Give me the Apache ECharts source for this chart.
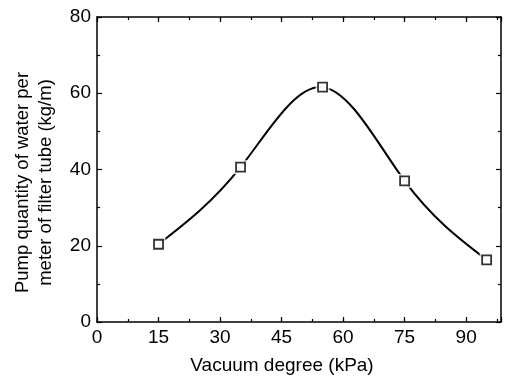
<!DOCTYPE html>
<html>
<head>
<meta charset="utf-8">
<script src="https://cdn.jsdelivr.net/npm/echarts@6/dist/echarts.min.js"></script>
<style>
  html, body { margin: 0; padding: 0; background: #fff; }
  #chart { width: 505px; height: 380px; }
</style>
</head>
<body>
<div id="chart"></div>
<script>
// Vacuum degree (kPa) and pumped water per metre of filter tube (kg/m)
const vacuumDegree = [15, 35, 55, 75, 95];
const pumpQuantity = [20.4, 40.6, 61.6, 37.0, 16.3];

// Axis ranges and tick steps
const xMin = 0, xMax = 98.5, xMajor = 15, xMinor = 7.5;
const yMin = 0, yMax = 80, yMajor = 20;

const FONT = 'Liberation Sans, Arial, sans-serif';
const INK = '#000';

const chart = echarts.init(document.getElementById('chart'), null, { renderer: 'canvas' });

// Slopes of a natural cubic spline through the measured points (data space)
function splineSlopes(xs, ys) {
  const n = xs.length;
  const h = [], d = [];
  for (let i = 0; i < n - 1; i++) { h.push(xs[i + 1] - xs[i]); d.push((ys[i + 1] - ys[i]) / h[i]); }
  // solve for second derivatives M (natural: M0 = Mn-1 = 0)
  const a = new Array(n).fill(0), b = new Array(n).fill(1), c = new Array(n).fill(0), r = new Array(n).fill(0);
  for (let i = 1; i < n - 1; i++) {
    a[i] = h[i - 1]; b[i] = 2 * (h[i - 1] + h[i]); c[i] = h[i];
    r[i] = 6 * (d[i] - d[i - 1]);
  }
  for (let i = 1; i < n; i++) {
    const w = a[i] / b[i - 1];
    b[i] -= w * c[i - 1]; r[i] -= w * r[i - 1];
  }
  const M = new Array(n).fill(0);
  M[n - 1] = r[n - 1] / b[n - 1];
  for (let i = n - 2; i >= 0; i--) M[i] = (r[i] - c[i] * M[i + 1]) / b[i];
  const m = [];
  for (let i = 0; i < n - 1; i++) m.push(d[i] - h[i] * (2 * M[i] + M[i + 1]) / 6);
  m.push(d[n - 2] + h[n - 2] * (M[n - 2] + 2 * M[n - 1]) / 6);
  return m;
}

function xAxisDef(position, step, tickLen, showLabel, showLine) {
  return {
    type: 'value', position: position, min: xMin, max: xMax, interval: step,
    axisLine: { show: showLine, onZero: false, lineStyle: { color: INK, width: 1.5 } },
    axisTick: { show: true, inside: true, length: tickLen, lineStyle: { color: INK, width: 1.2 } },
    axisLabel: {
      show: showLabel, color: INK, fontFamily: FONT, fontSize: 19, margin: 6,
      formatter: v => (Math.abs(v % xMajor) < 1e-6 ? String(v) : '')
    },
    splitLine: { show: false }
  };
}

function yAxisDef(position, showLabel) {
  return {
    type: 'value', position: position, min: yMin, max: yMax, interval: yMajor,
    axisLine: { show: true, onZero: false, lineStyle: { color: INK, width: 1.5 } },
    axisTick: { show: true, inside: true, length: 5, lineStyle: { color: INK, width: 1.2 } },
    minorTick: { show: true, splitNumber: 2, length: 3, lineStyle: { color: INK, width: 1.2 } },
    axisLabel: { show: showLabel, color: INK, fontFamily: FONT, fontSize: 19, margin: 6 },
    splitLine: { show: false },
    minorSplitLine: { show: false }
  };
}

const bottomMain = xAxisDef('bottom', xMajor, 5, true, true);
bottomMain.name = 'Vacuum degree (kPa)';
bottomMain.nameLocation = 'middle';
bottomMain.nameGap = 34;
bottomMain.nameTextStyle = { color: INK, fontFamily: FONT, fontSize: 19, padding: [0, 34, 0, 0] };

const leftMain = yAxisDef('left', true);
leftMain.name = 'Pump quantity of water per\nmeter of filter tube (kg/m)';
leftMain.nameLocation = 'middle';
leftMain.nameGap = 40;
leftMain.nameTextStyle = { color: INK, fontFamily: FONT, fontSize: 18.5, lineHeight: 23, padding: [0, 26, 0, 0] };

const points = vacuumDegree.map((x, i) => [x, pumpQuantity[i]]);
const slopes = splineSlopes(vacuumDegree, pumpQuantity);

// Smooth curve: cubic Bezier segments mapped through the grid's coordinate system
function renderCurve(params, api) {
  const segs = [];
  for (let i = 0; i < points.length - 1; i++) {
    const [x0, y0] = points[i], [x1, y1] = points[i + 1];
    const h = x1 - x0;
    const p0 = api.coord([x0, y0]);
    const c1 = api.coord([x0 + h / 3, y0 + slopes[i] * h / 3]);
    const c2 = api.coord([x1 - h / 3, y1 - slopes[i + 1] * h / 3]);
    const p1 = api.coord([x1, y1]);
    segs.push({
      type: 'bezierCurve',
      shape: { x1: p0[0], y1: p0[1], cpx1: c1[0], cpy1: c1[1], cpx2: c2[0], cpy2: c2[1], x2: p1[0], y2: p1[1] },
      style: { stroke: INK, lineWidth: 2, fill: null }
    });
  }
  return { type: 'group', children: segs };
}

chart.setOption({
  animation: false,
  backgroundColor: '#fff',
  grid: { left: 97, right: 4, top: 17, bottom: 58, containLabel: false },
  xAxis: [
    bottomMain,
    xAxisDef('bottom', xMinor, 3, false, false),
    xAxisDef('top', xMajor, 5, false, true),
    xAxisDef('top', xMinor, 3, false, false)
  ],
  yAxis: [
    leftMain,
    yAxisDef('right', false)
  ],
  series: [
    {
      type: 'custom',
      xAxisIndex: 0, yAxisIndex: 0,
      data: [0],
      renderItem: renderCurve,
      silent: true,
      z: 2
    },
    {
      // white surround leaves a small gap between curve and markers
      type: 'scatter',
      xAxisIndex: 0, yAxisIndex: 0,
      data: points,
      symbol: 'rect',
      symbolSize: 14,
      itemStyle: { color: '#fff' },
      silent: true,
      z: 3
    },
    {
      type: 'scatter',
      xAxisIndex: 0, yAxisIndex: 0,
      data: points,
      symbol: 'rect',
      symbolSize: 9,
      itemStyle: { color: '#fff', borderColor: INK, borderWidth: 1.8 },
      z: 4
    }
  ]
});
</script>
</body>
</html>
